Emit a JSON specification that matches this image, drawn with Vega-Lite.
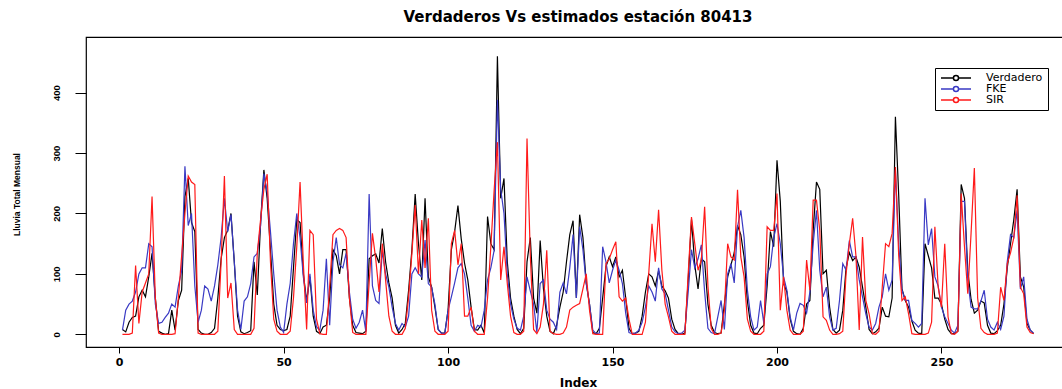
{
  "$schema": "https://vega.github.io/schema/vega-lite/v6.json",
  "width": 984,
  "height": 310,
  "autosize": "none",
  "padding": {"left": 86, "top": 37, "right": -8, "bottom": 42},
  "background": "white",
  "title": {
    "text": "Verdaderos Vs estimados estación 80413",
    "font": "DejaVu Sans",
    "fontSize": 15,
    "fontWeight": "bold",
    "color": "black",
    "anchor": "middle",
    "frame": "group",
    "baseline": "alphabetic",
    "offset": 16,
    "dy": 16
  },
  "data": {
    "values": [
      {"i":1,"Verdadero":8,"FKE":7,"SIR":0},{"i":2,"Verdadero":4,"FKE":40,"SIR":0},{"i":3,"Verdadero":20,"FKE":50,"SIR":0},{"i":4,"Verdadero":28,"FKE":55,"SIR":2},{"i":5,"Verdadero":30,"FKE":70,"SIR":114},{"i":6,"Verdadero":62,"FKE":100,"SIR":18},{"i":7,"Verdadero":73,"FKE":110,"SIR":70},{"i":8,"Verdadero":62,"FKE":110,"SIR":85},{"i":9,"Verdadero":95,"FKE":150,"SIR":100},{"i":10,"Verdadero":134,"FKE":145,"SIR":228},
      {"i":11,"Verdadero":60,"FKE":50,"SIR":60},{"i":12,"Verdadero":5,"FKE":18,"SIR":2},{"i":13,"Verdadero":2,"FKE":20,"SIR":0},{"i":14,"Verdadero":0,"FKE":28,"SIR":0},{"i":15,"Verdadero":1,"FKE":35,"SIR":0},{"i":16,"Verdadero":40,"FKE":50,"SIR":0},{"i":17,"Verdadero":7,"FKE":45,"SIR":1},{"i":18,"Verdadero":56,"FKE":80,"SIR":60},{"i":19,"Verdadero":73,"FKE":105,"SIR":130},{"i":20,"Verdadero":228,"FKE":278,"SIR":200},
      {"i":21,"Verdadero":258,"FKE":180,"SIR":262},{"i":22,"Verdadero":185,"FKE":200,"SIR":252},{"i":23,"Verdadero":170,"FKE":80,"SIR":248},{"i":24,"Verdadero":8,"FKE":20,"SIR":2},{"i":25,"Verdadero":2,"FKE":40,"SIR":0},{"i":26,"Verdadero":0,"FKE":80,"SIR":0},{"i":27,"Verdadero":0,"FKE":75,"SIR":0},{"i":28,"Verdadero":3,"FKE":55,"SIR":0},{"i":29,"Verdadero":10,"FKE":80,"SIR":0},{"i":30,"Verdadero":60,"FKE":115,"SIR":5},
      {"i":31,"Verdadero":125,"FKE":160,"SIR":120},{"i":32,"Verdadero":160,"FKE":225,"SIR":262},{"i":33,"Verdadero":172,"FKE":170,"SIR":60},{"i":34,"Verdadero":200,"FKE":198,"SIR":85},{"i":35,"Verdadero":120,"FKE":120,"SIR":8},{"i":36,"Verdadero":30,"FKE":40,"SIR":0},{"i":37,"Verdadero":4,"FKE":8,"SIR":0},{"i":38,"Verdadero":1,"FKE":55,"SIR":0},{"i":39,"Verdadero":3,"FKE":62,"SIR":0},{"i":40,"Verdadero":6,"FKE":84,"SIR":0},
      {"i":41,"Verdadero":120,"FKE":128,"SIR":10},{"i":42,"Verdadero":65,"FKE":134,"SIR":135},{"i":43,"Verdadero":185,"FKE":180,"SIR":190},{"i":44,"Verdadero":272,"FKE":266,"SIR":240},{"i":45,"Verdadero":225,"FKE":235,"SIR":265},{"i":46,"Verdadero":140,"FKE":170,"SIR":120},{"i":47,"Verdadero":50,"FKE":100,"SIR":25},{"i":48,"Verdadero":15,"FKE":40,"SIR":5},{"i":49,"Verdadero":8,"FKE":12,"SIR":0},{"i":50,"Verdadero":6,"FKE":3,"SIR":0},
      {"i":51,"Verdadero":8,"FKE":50,"SIR":0},{"i":52,"Verdadero":30,"FKE":84,"SIR":5},{"i":53,"Verdadero":110,"FKE":150,"SIR":60},{"i":54,"Verdadero":190,"FKE":200,"SIR":145},{"i":55,"Verdadero":185,"FKE":160,"SIR":252},{"i":56,"Verdadero":100,"FKE":95,"SIR":117},{"i":57,"Verdadero":55,"FKE":52,"SIR":8},{"i":58,"Verdadero":95,"FKE":100,"SIR":172},{"i":59,"Verdadero":30,"FKE":40,"SIR":165},{"i":60,"Verdadero":5,"FKE":12,"SIR":25},
      {"i":61,"Verdadero":1,"FKE":7,"SIR":1},{"i":62,"Verdadero":12,"FKE":40,"SIR":0},{"i":63,"Verdadero":15,"FKE":125,"SIR":0},{"i":64,"Verdadero":60,"FKE":15,"SIR":80},{"i":65,"Verdadero":140,"FKE":120,"SIR":165},{"i":66,"Verdadero":130,"FKE":160,"SIR":172},{"i":67,"Verdadero":100,"FKE":115,"SIR":175},{"i":68,"Verdadero":140,"FKE":110,"SIR":172},{"i":69,"Verdadero":140,"FKE":134,"SIR":160},{"i":70,"Verdadero":60,"FKE":70,"SIR":60},
      {"i":71,"Verdadero":15,"FKE":25,"SIR":3},{"i":72,"Verdadero":3,"FKE":10,"SIR":0},{"i":73,"Verdadero":2,"FKE":20,"SIR":0},{"i":74,"Verdadero":1,"FKE":40,"SIR":0},{"i":75,"Verdadero":5,"FKE":5,"SIR":0},{"i":76,"Verdadero":125,"FKE":232,"SIR":85},{"i":77,"Verdadero":130,"FKE":80,"SIR":167},{"i":78,"Verdadero":133,"FKE":56,"SIR":125},{"i":79,"Verdadero":118,"FKE":51,"SIR":70},{"i":80,"Verdadero":175,"FKE":139,"SIR":150},
      {"i":81,"Verdadero":120,"FKE":100,"SIR":90},{"i":82,"Verdadero":85,"FKE":78,"SIR":30},{"i":83,"Verdadero":60,"FKE":45,"SIR":5},{"i":84,"Verdadero":15,"FKE":18,"SIR":0},{"i":85,"Verdadero":2,"FKE":7,"SIR":0},{"i":86,"Verdadero":8,"FKE":18,"SIR":0},{"i":87,"Verdadero":18,"FKE":12,"SIR":10},{"i":88,"Verdadero":73,"FKE":30,"SIR":62},{"i":89,"Verdadero":140,"FKE":100,"SIR":134},{"i":90,"Verdadero":232,"FKE":110,"SIR":214},
      {"i":91,"Verdadero":150,"FKE":100,"SIR":100},{"i":92,"Verdadero":90,"FKE":95,"SIR":189},{"i":93,"Verdadero":225,"FKE":156,"SIR":110},{"i":94,"Verdadero":95,"FKE":84,"SIR":192},{"i":95,"Verdadero":78,"FKE":78,"SIR":40},{"i":96,"Verdadero":45,"FKE":50,"SIR":5},{"i":97,"Verdadero":8,"FKE":8,"SIR":0},{"i":98,"Verdadero":2,"FKE":2,"SIR":0},{"i":99,"Verdadero":2,"FKE":1,"SIR":0},{"i":100,"Verdadero":40,"FKE":40,"SIR":5},
      {"i":101,"Verdadero":140,"FKE":62,"SIR":150},{"i":102,"Verdadero":170,"FKE":85,"SIR":172},{"i":103,"Verdadero":213,"FKE":110,"SIR":115},{"i":104,"Verdadero":158,"FKE":117,"SIR":150},{"i":105,"Verdadero":118,"FKE":100,"SIR":30},{"i":106,"Verdadero":90,"FKE":60,"SIR":30},{"i":107,"Verdadero":45,"FKE":15,"SIR":45},{"i":108,"Verdadero":8,"FKE":5,"SIR":5},{"i":109,"Verdadero":7,"FKE":15,"SIR":0},{"i":110,"Verdadero":15,"FKE":12,"SIR":0},
      {"i":111,"Verdadero":2,"FKE":40,"SIR":0},{"i":112,"Verdadero":195,"FKE":90,"SIR":60},{"i":113,"Verdadero":150,"FKE":110,"SIR":145},{"i":114,"Verdadero":140,"FKE":139,"SIR":238},{"i":115,"Verdadero":460,"FKE":388,"SIR":318},{"i":116,"Verdadero":225,"FKE":240,"SIR":90},{"i":117,"Verdadero":258,"FKE":200,"SIR":145},{"i":118,"Verdadero":120,"FKE":100,"SIR":84},{"i":119,"Verdadero":60,"FKE":50,"SIR":30},{"i":120,"Verdadero":30,"FKE":25,"SIR":3},
      {"i":121,"Verdadero":8,"FKE":10,"SIR":0},{"i":122,"Verdadero":1,"FKE":7,"SIR":0},{"i":123,"Verdadero":10,"FKE":30,"SIR":5},{"i":124,"Verdadero":120,"FKE":95,"SIR":324},{"i":125,"Verdadero":160,"FKE":72,"SIR":130},{"i":126,"Verdadero":60,"FKE":50,"SIR":8},{"i":127,"Verdadero":35,"FKE":3,"SIR":1},{"i":128,"Verdadero":155,"FKE":84,"SIR":12},{"i":129,"Verdadero":75,"FKE":90,"SIR":50},{"i":130,"Verdadero":30,"FKE":40,"SIR":139},
      {"i":131,"Verdadero":5,"FKE":25,"SIR":5},{"i":132,"Verdadero":1,"FKE":20,"SIR":1},{"i":133,"Verdadero":15,"FKE":8,"SIR":0},{"i":134,"Verdadero":45,"FKE":70,"SIR":0},{"i":135,"Verdadero":70,"FKE":85,"SIR":2},{"i":136,"Verdadero":120,"FKE":67,"SIR":12},{"i":137,"Verdadero":165,"FKE":110,"SIR":40},{"i":138,"Verdadero":188,"FKE":165,"SIR":45},{"i":139,"Verdadero":60,"FKE":60,"SIR":48},{"i":140,"Verdadero":198,"FKE":178,"SIR":51},
      {"i":141,"Verdadero":160,"FKE":140,"SIR":75},{"i":142,"Verdadero":85,"FKE":84,"SIR":100},{"i":143,"Verdadero":50,"FKE":50,"SIR":40},{"i":144,"Verdadero":3,"FKE":7,"SIR":1},{"i":145,"Verdadero":1,"FKE":1,"SIR":0},{"i":146,"Verdadero":10,"FKE":2,"SIR":0},{"i":147,"Verdadero":60,"FKE":145,"SIR":0},{"i":148,"Verdadero":112,"FKE":120,"SIR":117},{"i":149,"Verdadero":128,"FKE":85,"SIR":125},{"i":150,"Verdadero":112,"FKE":106,"SIR":140},
      {"i":151,"Verdadero":128,"FKE":123,"SIR":153},{"i":152,"Verdadero":95,"FKE":106,"SIR":62},{"i":153,"Verdadero":106,"FKE":84,"SIR":55},{"i":154,"Verdadero":60,"FKE":35,"SIR":60},{"i":155,"Verdadero":10,"FKE":3,"SIR":25},{"i":156,"Verdadero":1,"FKE":1,"SIR":0},{"i":157,"Verdadero":2,"FKE":2,"SIR":0},{"i":158,"Verdadero":5,"FKE":7,"SIR":0},{"i":159,"Verdadero":30,"FKE":20,"SIR":0},{"i":160,"Verdadero":70,"FKE":45,"SIR":20},
      {"i":161,"Verdadero":100,"FKE":80,"SIR":100},{"i":162,"Verdadero":95,"FKE":70,"SIR":183},{"i":163,"Verdadero":80,"FKE":55,"SIR":120},{"i":164,"Verdadero":105,"FKE":110,"SIR":206},{"i":165,"Verdadero":80,"FKE":75,"SIR":106},{"i":166,"Verdadero":72,"FKE":67,"SIR":50},{"i":167,"Verdadero":60,"FKE":40,"SIR":29},{"i":168,"Verdadero":25,"FKE":12,"SIR":5},{"i":169,"Verdadero":8,"FKE":4,"SIR":0},{"i":170,"Verdadero":1,"FKE":1,"SIR":0},
      {"i":171,"Verdadero":0,"FKE":2,"SIR":0},{"i":172,"Verdadero":2,"FKE":7,"SIR":0},{"i":173,"Verdadero":90,"FKE":70,"SIR":100},{"i":174,"Verdadero":190,"FKE":140,"SIR":194},{"i":175,"Verdadero":115,"FKE":110,"SIR":150},{"i":176,"Verdadero":75,"FKE":125,"SIR":106},{"i":177,"Verdadero":125,"FKE":148,"SIR":123},{"i":178,"Verdadero":120,"FKE":70,"SIR":211},{"i":179,"Verdadero":50,"FKE":10,"SIR":80},{"i":180,"Verdadero":15,"FKE":3,"SIR":10},
      {"i":181,"Verdadero":3,"FKE":1,"SIR":0},{"i":182,"Verdadero":1,"FKE":29,"SIR":0},{"i":183,"Verdadero":2,"FKE":56,"SIR":2},{"i":184,"Verdadero":50,"FKE":8,"SIR":40},{"i":185,"Verdadero":95,"FKE":100,"SIR":150},{"i":186,"Verdadero":115,"FKE":117,"SIR":128},{"i":187,"Verdadero":135,"FKE":85,"SIR":123},{"i":188,"Verdadero":180,"FKE":178,"SIR":239},{"i":189,"Verdadero":165,"FKE":205,"SIR":128},{"i":190,"Verdadero":128,"FKE":160,"SIR":95},
      {"i":191,"Verdadero":55,"FKE":73,"SIR":25},{"i":192,"Verdadero":15,"FKE":29,"SIR":5},{"i":193,"Verdadero":2,"FKE":7,"SIR":0},{"i":194,"Verdadero":1,"FKE":12,"SIR":0},{"i":195,"Verdadero":10,"FKE":56,"SIR":0},{"i":196,"Verdadero":15,"FKE":18,"SIR":5},{"i":197,"Verdadero":80,"FKE":100,"SIR":178},{"i":198,"Verdadero":170,"FKE":112,"SIR":172},{"i":199,"Verdadero":145,"FKE":160,"SIR":172},{"i":200,"Verdadero":288,"FKE":183,"SIR":233},
      {"i":201,"Verdadero":220,"FKE":150,"SIR":40},{"i":202,"Verdadero":84,"FKE":95,"SIR":95},{"i":203,"Verdadero":70,"FKE":73,"SIR":40},{"i":204,"Verdadero":25,"FKE":29,"SIR":7},{"i":205,"Verdadero":5,"FKE":7,"SIR":0},{"i":206,"Verdadero":1,"FKE":35,"SIR":0},{"i":207,"Verdadero":0,"FKE":51,"SIR":0},{"i":208,"Verdadero":10,"FKE":48,"SIR":5},{"i":209,"Verdadero":50,"FKE":35,"SIR":123},{"i":210,"Verdadero":56,"FKE":70,"SIR":73},
      {"i":211,"Verdadero":172,"FKE":150,"SIR":222},{"i":212,"Verdadero":252,"FKE":205,"SIR":222},{"i":213,"Verdadero":240,"FKE":106,"SIR":172},{"i":214,"Verdadero":100,"FKE":62,"SIR":29},{"i":215,"Verdadero":106,"FKE":78,"SIR":23},{"i":216,"Verdadero":45,"FKE":29,"SIR":7},{"i":217,"Verdadero":8,"FKE":7,"SIR":0},{"i":218,"Verdadero":2,"FKE":10,"SIR":0},{"i":219,"Verdadero":7,"FKE":56,"SIR":1},{"i":220,"Verdadero":40,"FKE":117,"SIR":5},
      {"i":221,"Verdadero":110,"FKE":106,"SIR":100},{"i":222,"Verdadero":135,"FKE":155,"SIR":150},{"i":223,"Verdadero":122,"FKE":128,"SIR":192},{"i":224,"Verdadero":128,"FKE":128,"SIR":130},{"i":225,"Verdadero":111,"FKE":90,"SIR":7},{"i":226,"Verdadero":78,"FKE":62,"SIR":161},{"i":227,"Verdadero":45,"FKE":34,"SIR":56},{"i":228,"Verdadero":8,"FKE":12,"SIR":34},{"i":229,"Verdadero":1,"FKE":7,"SIR":1},{"i":230,"Verdadero":4,"FKE":18,"SIR":0},
      {"i":231,"Verdadero":10,"FKE":45,"SIR":5},{"i":232,"Verdadero":45,"FKE":62,"SIR":78},{"i":233,"Verdadero":30,"FKE":100,"SIR":150},{"i":234,"Verdadero":29,"FKE":73,"SIR":145},{"i":235,"Verdadero":60,"FKE":90,"SIR":167},{"i":236,"Verdadero":360,"FKE":272,"SIR":277},{"i":237,"Verdadero":230,"FKE":150,"SIR":130},{"i":238,"Verdadero":75,"FKE":73,"SIR":56},{"i":239,"Verdadero":56,"FKE":56,"SIR":62},{"i":240,"Verdadero":45,"FKE":56,"SIR":34},
      {"i":241,"Verdadero":22,"FKE":23,"SIR":1},{"i":242,"Verdadero":7,"FKE":18,"SIR":0},{"i":243,"Verdadero":2,"FKE":12,"SIR":0},{"i":244,"Verdadero":1,"FKE":18,"SIR":0},{"i":245,"Verdadero":150,"FKE":225,"SIR":0},{"i":246,"Verdadero":130,"FKE":148,"SIR":2},{"i":247,"Verdadero":110,"FKE":175,"SIR":20},{"i":248,"Verdadero":60,"FKE":95,"SIR":178},{"i":249,"Verdadero":60,"FKE":80,"SIR":78},{"i":250,"Verdadero":50,"FKE":45,"SIR":45},
      {"i":251,"Verdadero":25,"FKE":29,"SIR":150},{"i":252,"Verdadero":8,"FKE":18,"SIR":29},{"i":253,"Verdadero":1,"FKE":7,"SIR":1},{"i":254,"Verdadero":1,"FKE":2,"SIR":0},{"i":255,"Verdadero":5,"FKE":15,"SIR":5},{"i":256,"Verdadero":248,"FKE":220,"SIR":233},{"i":257,"Verdadero":225,"FKE":220,"SIR":145},{"i":258,"Verdadero":105,"FKE":90,"SIR":67},{"i":259,"Verdadero":58,"FKE":45,"SIR":167},{"i":260,"Verdadero":35,"FKE":42,"SIR":275},
      {"i":261,"Verdadero":40,"FKE":42,"SIR":60},{"i":262,"Verdadero":55,"FKE":55,"SIR":10},{"i":263,"Verdadero":52,"FKE":73,"SIR":3},{"i":264,"Verdadero":15,"FKE":25,"SIR":0},{"i":265,"Verdadero":2,"FKE":12,"SIR":0},{"i":266,"Verdadero":1,"FKE":7,"SIR":0},{"i":267,"Verdadero":6,"FKE":20,"SIR":2},{"i":268,"Verdadero":15,"FKE":8,"SIR":78},{"i":269,"Verdadero":50,"FKE":30,"SIR":56},{"i":270,"Verdadero":110,"FKE":120,"SIR":117},
      {"i":271,"Verdadero":150,"FKE":165,"SIR":135},{"i":272,"Verdadero":190,"FKE":160,"SIR":160},{"i":273,"Verdadero":240,"FKE":205,"SIR":230},{"i":274,"Verdadero":95,"FKE":75,"SIR":78},{"i":275,"Verdadero":78,"FKE":95,"SIR":67},{"i":276,"Verdadero":18,"FKE":25,"SIR":12},{"i":277,"Verdadero":7,"FKE":7,"SIR":3},{"i":278,"Verdadero":1,"FKE":2,"SIR":1}
    ]
  },
  "transform": [
    {"fold": ["Verdadero", "FKE", "SIR"], "as": ["serie", "valor"]}
  ],
  "mark": {"type": "line", "strokeWidth": 1.2, "interpolate": "linear"},
  "encoding": {
    "x": {
      "field": "i",
      "type": "quantitative",
      "scale": {"domain": [-10.08, 289.08], "nice": false, "zero": false},
      "axis": {
        "title": "Index",
        "values": [0, 50, 100, 150, 200, 250],
        "tickSize": 6,
        "labelPadding": 3,
        "labelBaseline": "top",
        "labelFont": "DejaVu Sans",
        "labelFontSize": 11,
        "labelFontWeight": "bold",
        "titleFont": "DejaVu Sans",
        "titleFontSize": 12,
        "titleFontWeight": "bold",
        "titleBaseline": "alphabetic",
        "titleX": 492,
        "titleY": 39
      }
    },
    "y": {
      "field": "valor",
      "type": "quantitative",
      "scale": {"domain": [-21, 492], "nice": false, "zero": false},
      "axis": {
        "title": "Lluvia Total Mensual",
        "values": [0, 100, 200, 300, 400],
        "tickSize": 11,
        "labelAngle": 270,
        "labelAlign": "center",
        "labelBaseline": "bottom",
        "labelPadding": 14,
        "labelFont": "Liberation Sans",
        "labelFontSize": 9.5,
        "labelFontWeight": "bold",
        "titleFont": "Liberation Sans",
        "titleFontSize": 8.5,
        "titleFontWeight": "bold",
        "titleAngle": 270,
        "titleBaseline": "alphabetic",
        "titleX": -67,
        "titleY": 157
      }
    },
    "color": {
      "field": "serie",
      "type": "nominal",
      "scale": {"domain": ["Verdadero", "FKE", "SIR"], "range": ["#000000", "#3a3ac4", "#ff1a1a"]},
      "legend": {
        "title": null,
        "orient": "none",
        "legendX": 849,
        "legendY": 31,
        "strokeColor": "black",
        "fillColor": "white",
        "padding": 5,
        "symbolType": "M-1,0H-0.17M0.17,0H1M-0.17,0A0.17,0.17 0 1,0 0.17,0A0.17,0.17 0 1,0 -0.17,0",
        "symbolSize": 900,
        "symbolStrokeWidth": 1.5,
        "clipHeight": 10,
        "rowPadding": 0,
        "labelOffset": 14,
        "labelFont": "DejaVu Sans",
        "labelFontSize": 11,
        "labelColor": "black",
        "labelExpr": "datum.label + '\u00a0\u00a0\u00a0\u00a0\u00a0\u00a0'"
      }
    }
  },
  "config": {
    "view": {"stroke": "black", "strokeWidth": 1.2},
    "axis": {"grid": false, "domain": false, "tickColor": "black", "tickWidth": 1, "labelColor": "black", "titleColor": "black"}
  }
}
